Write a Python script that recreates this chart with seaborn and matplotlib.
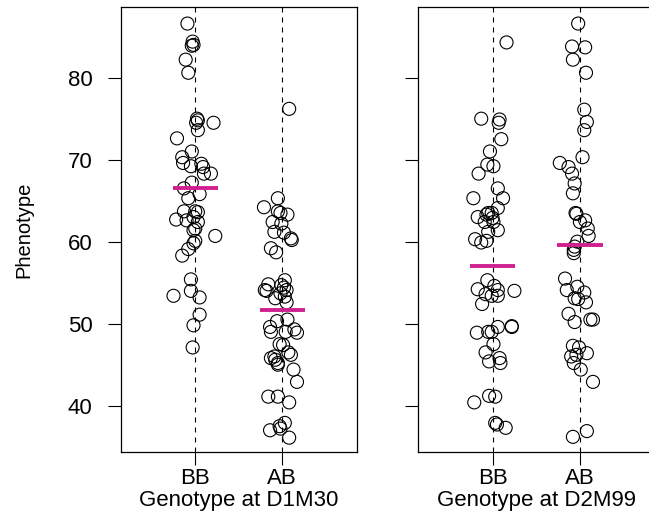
import numpy as np
import pandas as pd
import matplotlib
matplotlib.use("Agg")
import matplotlib.pyplot as plt
import seaborn as sns

genotypes = ["BB", "AB"]

# ---- Marker D1M30 ----
d1_bb = [86.6, 84.4, 83.9, 84.0, 82.2, 80.6, 75.0, 74.8, 74.5, 74.5, 73.6, 72.6, 71.0,
         70.3, 69.6, 69.2, 69.5, 69.1, 68.3, 68.3, 67.2, 66.5, 65.8, 65.3, 63.7, 63.7,
         63.6, 62.7, 62.6, 63.0, 62.4, 61.6, 61.4, 60.7, 60.1, 59.8, 59.1, 58.3, 55.4,
         54.0, 53.4, 53.2, 51.1, 49.8, 47.1]
d1_bb_jit = [-0.09, -0.03, -0.04, -0.02, -0.11, -0.08, 0.02, 0.03, 0.01, 0.21, 0.03, -0.21,
             -0.04, -0.15, -0.14, -0.05, 0.07, 0.09, 0.10, 0.18, -0.04, -0.13, 0.05, -0.08,
             -0.13, 0.00, 0.03, -0.22, -0.10, -0.02, 0.03, 0.00, -0.02, 0.23, 0.00, -0.02,
             -0.08, -0.15, -0.05, -0.05, -0.25, 0.05, 0.05, -0.02, -0.03]
d1_ab = [76.2, 65.3, 64.2, 63.7, 63.5, 63.3, 62.4, 62.2, 61.2, 61.1, 60.4, 60.2, 59.2,
         58.7, 55.3, 54.8, 54.1, 54.0, 54.7, 54.4, 54.1, 53.7, 53.1, 53.3, 52.6, 49.6,
         50.3, 50.5, 49.0, 49.0, 49.3, 48.9, 47.5, 47.4, 46.5, 46.2, 45.8, 45.6, 45.2,
         45.0, 46.0, 44.4, 42.9, 41.1, 41.1, 40.4, 37.9, 37.5, 37.0, 37.2, 36.1]
d1_ab_jit = [0.08, -0.05, -0.21, -0.05, -0.02, 0.06, -0.11, -0.01, -0.09, 0.02, 0.10, 0.11,
             -0.13, -0.07, 0.03, -0.16, -0.20, -0.18, -0.01, 0.02, 0.05, -0.02, -0.08, 0.03,
             0.05, -0.14, -0.06, 0.06, -0.13, 0.04, 0.14, 0.17, -0.03, 0.01, 0.07, 0.10,
             -0.13, -0.08, -0.05, -0.05, -0.09, 0.13, 0.17, -0.16, -0.05, 0.08, 0.03, -0.03,
             -0.14, -0.02, 0.08]

# ---- Marker D2M99 ----
d2_bb = [84.3, 75.0, 74.9, 74.5, 72.5, 71.0, 69.4, 69.2, 68.3, 66.5, 65.3, 65.3, 64.1,
         63.5, 63.5, 63.3, 63.0, 62.9, 62.4, 62.4, 61.4, 61.2, 60.3, 59.9, 60.1, 55.3,
         54.2, 54.6, 54.1, 54.0, 53.6, 53.4, 53.4, 52.4, 48.9, 49.0, 49.0, 49.6, 49.7,
         49.6, 47.5, 46.5, 45.4, 45.8, 45.2, 41.2, 41.1, 40.4, 37.9, 37.7, 37.3]
d2_bb_jit = [0.16, -0.13, 0.08, 0.07, 0.10, -0.03, -0.06, 0.01, -0.16, 0.06, -0.22, 0.12,
             0.06, -0.05, -0.01, -0.07, -0.17, 0.00, -0.09, 0.01, 0.06, -0.05, -0.20, -0.13,
             -0.07, -0.06, -0.17, 0.02, 0.06, 0.25, -0.08, -0.01, 0.06, -0.12, -0.18, -0.05,
             -0.01, 0.06, 0.22, 0.22, 0.01, -0.08, -0.04, 0.08, 0.09, -0.04, 0.03, -0.21,
             0.03, 0.05, 0.15]
d2_ab = [86.6, 83.8, 83.7, 82.2, 80.6, 76.1, 74.6, 73.6, 70.3, 69.6, 69.1, 68.3, 67.1,
         65.9, 63.5, 63.4, 62.4, 62.6, 61.6, 60.7, 60.0, 59.4, 59.0, 58.6, 55.5, 54.1,
         54.5, 53.8, 53.1, 53.0, 52.6, 51.2, 50.2, 50.5, 50.5, 47.3, 47.1, 46.0, 46.2,
         46.4, 45.2, 44.4, 42.9, 36.9, 36.2]
d2_ab_jit = [-0.02, -0.09, 0.06, -0.08, 0.07, 0.05, 0.08, 0.05, 0.03, -0.23, -0.13, -0.09,
             -0.06, -0.08, -0.05, -0.04, 0.00, 0.06, 0.09, 0.10, -0.03, -0.06, -0.07, -0.07,
             -0.17, -0.15, -0.03, 0.05, -0.06, -0.02, 0.07, -0.13, -0.06, 0.12, 0.15, -0.08,
             -0.01, -0.10, -0.04, 0.08, -0.07, 0.01, 0.15, 0.08, -0.08]

markers = ["D1M30", "D2M99"]


def make_df(bb, bbj, ab, abj):
    return pd.DataFrame({
        "Phenotype": bb + ab,
        "Genotype": ["BB"] * len(bb) + ["AB"] * len(ab),
        "jit": bbj + abj,
    })


dfs = [make_df(d1_bb, d1_bb_jit, d1_ab, d1_ab_jit),
       make_df(d2_bb, d2_bb_jit, d2_ab, d2_ab_jit)]

sns.set_style("white")
plt.rcParams["font.family"] = ["Liberation Sans", "DejaVu Sans"]
plt.rcParams["text.color"] = "black"
plt.rcParams["axes.labelcolor"] = "black"
plt.rcParams["xtick.color"] = "black"
plt.rcParams["ytick.color"] = "black"

fig = plt.figure(figsize=(6.49, 5.25), dpi=100)
W, H = 649, 525
axes = [fig.add_axes([121 / W, 1 - 452 / H, 236 / W, 445 / H]),
        fig.add_axes([418 / W, 1 - 452 / H, 237 / W, 445 / H])]

pos = {g: i + 1 for i, g in enumerate(genotypes)}

for k, (ax, df, m) in enumerate(zip(axes, dfs, markers)):
    df = df.copy()
    df["x"] = df["Genotype"].map(pos) + df["jit"]
    for g in genotypes:
        ax.axvline(pos[g], color="black", lw=0.8, ls=(0, (4.5, 4.5)), zorder=1)
    sns.scatterplot(data=df, x="x", y="Phenotype", ax=ax, s=88, marker="o",
                    facecolors="none", edgecolor="black", linewidth=0.8, zorder=3,
                    legend=False)
    means = df.groupby("Genotype")["Phenotype"].mean()
    for g in genotypes:
        ax.hlines(means[g], pos[g] - 0.26, pos[g] + 0.26, color="#D02090", lw=2.8,
                  zorder=4)
    ax.set_xlim(0.146, 2.86)
    ax.set_ylim(34.35, 88.62)
    ax.set_xticks([pos[g] for g in genotypes])
    ax.set_xticklabels(genotypes)
    ax.set_yticks([40, 50, 60, 70, 80])
    ax.tick_params(axis="both", direction="out", length=9.4, width=0.8, color="black",
                   labelsize=16, labelcolor="black", bottom=True, left=True)
    ax.tick_params(axis="x", pad=2)
    ax.tick_params(axis="y", pad=11)
    ax.set_xlabel(f"Genotype at {m}", fontsize=16, labelpad=0.5, color="black")
    for sp in ax.spines.values():
        sp.set_color("black")
        sp.set_linewidth(0.9)
    if k == 0:
        ax.set_ylabel("Phenotype", fontsize=14.5, color="black")
        ax.yaxis.set_label_coords((33 - 121) / 236, 0.5)
    else:
        ax.set_ylabel("")
        ax.set_yticklabels([])

fig.savefig("out.png", dpi=100)
